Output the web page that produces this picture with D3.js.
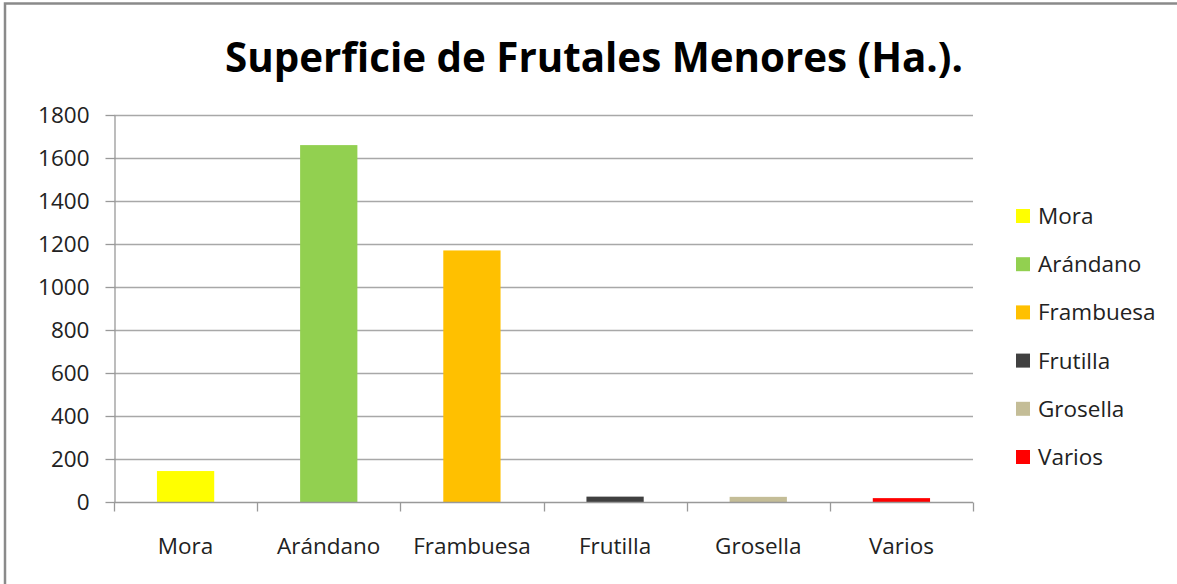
<!DOCTYPE html>
<html>
<head>
<meta charset="utf-8">
<script src="https://cdn.jsdelivr.net/npm/d3@7"></script>
<style>
  body { margin: 0; background: #fff; }
  svg { display: block; font-family: "Open Sans", "DejaVu Sans", sans-serif; }
  .legend text { font-size: 22.5px; fill: #222; }
</style>
</head>
<body>
<div id="chart"></div>
<script>
/* data */
var categories = ["Mora", "Arándano", "Frambuesa", "Frutilla", "Grosella", "Varios"];
var values = [144, 1660, 1170, 25, 24, 18];
var colors = ["#ffff00", "#92d050", "#ffc000", "#404040", "#c4bd97", "#ff0000"];
var yTicks = [0, 200, 400, 600, 800, 1000, 1200, 1400, 1600, 1800];

var width = 1177, height = 584;
var margin = {left: 114, right: 204, top: 115, bottom: 82};

var svg = d3.select("#chart").append("svg")
    .attr("width", width)
    .attr("height", height);

// outer frame (only top + left visible)
svg.append("path")
    .attr("d", "M5,584 V3.5 H1177")
    .attr("fill", "none")
    .attr("stroke", "#8a8a8a")
    .attr("stroke-width", 2.5);

// title
svg.append("text")
    .attr("x", 594)
    .attr("y", 72)
    .attr("text-anchor", "middle")
    .attr("textLength", 738)
    .attr("lengthAdjust", "spacingAndGlyphs")
    .style("font-size", "42px")
    .style("font-weight", "bold")
    .text("Superficie de Frutales Menores (Ha.).");

var x = d3.scaleBand()
    .domain(categories)
    .range([margin.left, width - margin.right])
    .paddingInner(0.6)
    .paddingOuter(0.3);

var y = d3.scaleLinear()
    .domain([0, 1800])
    .range([height - margin.bottom, margin.top]);

// gridlines
svg.append("g")
    .selectAll("line")
    .data(yTicks.slice(1))
  .enter().append("line")
    .attr("x1", margin.left)
    .attr("x2", width - margin.right)
    .attr("y1", function(d){ return Math.round(y(d)) + 0.5; })
    .attr("y2", function(d){ return Math.round(y(d)) + 0.5; })
    .attr("stroke", "#a8a8a8")
    .attr("stroke-width", 1.3);

// bars
svg.append("g")
    .selectAll("rect")
    .data(values)
  .enter().append("rect")
    .attr("x", function(d, i){ return x(categories[i]); })
    .attr("width", x.bandwidth())
    .attr("y", function(d){ return y(d); })
    .attr("height", function(d){ return y(0) - y(d); })
    .attr("fill", function(d, i){ return colors[i]; });

// y axis
var yAxis = svg.append("g")
    .attr("transform", "translate(" + (margin.left + 0.5) + ",0)")
    .call(d3.axisLeft(y).tickValues(yTicks).tickFormat(d3.format("d"))
      .tickSize(9).tickPadding(16).tickSizeOuter(0));
yAxis.select(".domain").attr("stroke", "#999").attr("stroke-width", 1.3);
yAxis.selectAll(".tick line").attr("stroke", "#999").attr("stroke-width", 1.3);
yAxis.selectAll(".tick text")
    .style("font-family", "'Open Sans', sans-serif")
    .style("font-size", "22.5px")
    .style("fill", "#222");

// x axis
var xPos = d3.scalePoint()
    .domain(d3.range(categories.length + 1))
    .range([margin.left, width - margin.right]);
var xAxis = svg.append("g")
    .attr("transform", "translate(0," + (y(0) + 0.5) + ")");
xAxis.append("line")
    .attr("x1", margin.left).attr("x2", width - margin.right)
    .attr("stroke", "#999").attr("stroke-width", 1.3);
xAxis.selectAll(".xtick")
    .data(xPos.domain())
  .enter().append("line")
    .attr("x1", function(d){ return Math.round(xPos(d)) + 0.5; })
    .attr("x2", function(d){ return Math.round(xPos(d)) + 0.5; })
    .attr("y1", 0).attr("y2", 9)
    .attr("stroke", "#999").attr("stroke-width", 1.3);
xAxis.selectAll(".xlabel")
    .data(categories)
  .enter().append("text")
    .attr("x", function(d){ return x(d) + x.bandwidth() / 2; })
    .attr("y", 51)
    .attr("text-anchor", "middle")
    .style("font-size", "22.5px")
    .style("fill", "#222")
    .text(function(d){ return d; });

// legend
var legend = svg.append("g").attr("class", "legend");
var rows = legend.selectAll("g")
    .data(categories)
  .enter().append("g")
    .attr("transform", function(d, i){ return "translate(1016," + (209 + i * 48.2) + ")"; });
rows.append("rect")
    .attr("width", 14).attr("height", 14)
    .attr("fill", function(d, i){ return colors[i]; });
rows.append("text")
    .attr("x", 22)
    .attr("y", 15)
    .text(function(d){ return d; });
</script>
</body>
</html>
